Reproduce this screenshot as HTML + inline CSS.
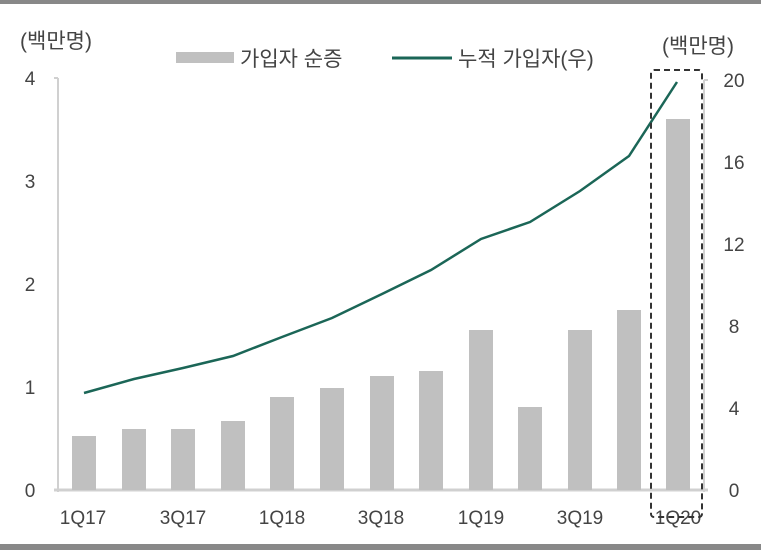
<!DOCTYPE html><html><head><meta charset="utf-8"><style>body{margin:0;background:#fff}svg{display:block}text{font-family:"Liberation Sans","Noto Sans CJK KR",sans-serif;fill:#444;font-size:19px}.l{font-size:21px}</style></head><body>
<svg width="761" height="550" viewBox="0 0 761 550">
<rect x="0" y="0" width="761" height="4" fill="#888"/>
<rect x="0" y="544" width="761" height="6" fill="#888"/>
<text x="20" y="48" class="l">(백만명)</text>
<text x="662" y="53" class="l">(백만명)</text>
<rect x="176" y="52" width="58" height="11" fill="#c0c0c0"/>
<text x="240" y="66" class="l">가입자 순증</text>
<line x1="392" y1="58" x2="452" y2="58" stroke="#1b6657" stroke-width="3"/>
<text x="458" y="66" class="l">누적 가입자(우)</text>
<g text-anchor="middle">
<text x="30" y="85">4</text><text x="30" y="188">3</text><text x="30" y="291">2</text><text x="30" y="394">1</text><text x="30" y="497">0</text>
<text x="734" y="87">20</text><text x="734" y="169">16</text><text x="734" y="251">12</text><text x="734" y="333">8</text><text x="734" y="415">4</text><text x="734" y="497">0</text>
<text x="83" y="524">1Q17</text><text x="183" y="524">3Q17</text><text x="282" y="524">1Q18</text><text x="381" y="524">3Q18</text><text x="481" y="524">1Q19</text><text x="580" y="524">3Q19</text><text x="678" y="524">1Q20</text>
</g>
<g stroke="#d0d0d0" stroke-width="2"><line x1="58" y1="78" x2="58" y2="492"/><line x1="704" y1="80" x2="704" y2="492"/><line x1="54" y1="490" x2="708" y2="490" stroke-width="3"/><line x1="54" y1="78" x2="58" y2="78"/><line x1="704" y1="80" x2="708" y2="80"/></g>
<g fill="#c0c0c0">
<rect x="72" y="436" width="24" height="54"/><rect x="122" y="429" width="24" height="61"/><rect x="171" y="429" width="24" height="61"/><rect x="221" y="421" width="24" height="69"/><rect x="270" y="397" width="24" height="93"/><rect x="320" y="388" width="24" height="102"/><rect x="370" y="376" width="24" height="114"/><rect x="419" y="371" width="24" height="119"/><rect x="469" y="330" width="24" height="160"/><rect x="518" y="407" width="24" height="83"/><rect x="568" y="330" width="24" height="160"/><rect x="617" y="310" width="24" height="180"/><rect x="666" y="119" width="24" height="371"/>
</g>
<polyline fill="none" stroke="#1b6657" stroke-width="2.5" points="84,393 134,379 183,368 233,356 282,337 332,318 382,294 431,270 481,239 530,222 580,191 629,156 677,82"/>
<rect x="651" y="70" width="51" height="447" rx="3" fill="none" stroke="#333" stroke-width="2" stroke-dasharray="6,4"/>
</svg></body></html>
